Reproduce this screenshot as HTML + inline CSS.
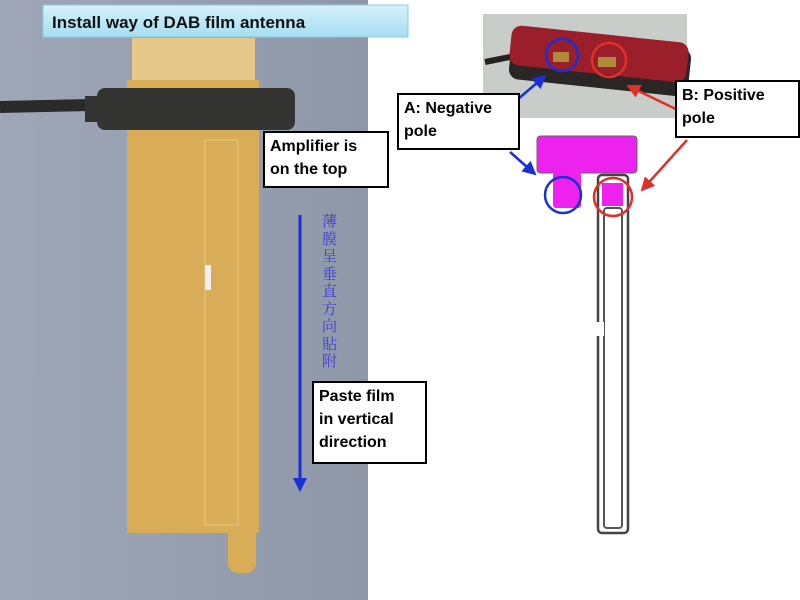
<!DOCTYPE html>
<html><head><meta charset="utf-8"><style>
body{margin:0;width:800px;height:600px;overflow:hidden;background:#fff;font-family:"Liberation Sans","Noto Sans CJK SC",sans-serif}
.box{position:absolute;background:#fff;border:2px solid #000;font-weight:bold;font-size:16px;line-height:23px;padding:2px 5px;box-sizing:border-box;color:#000}
</style></head><body>
<svg width="800" height="600" style="position:absolute;left:0;top:0">
<defs>
<linearGradient id="bg" x1="0" x2="1"><stop offset="0" stop-color="#9ea6b8"/><stop offset="1" stop-color="#8f98a8"/></linearGradient>
<linearGradient id="tb" x1="0" y1="0" x2="0" y2="1"><stop offset="0" stop-color="#d6f1fb"/><stop offset="1" stop-color="#a6def1"/></linearGradient>
<marker id="ab" markerUnits="userSpaceOnUse" markerWidth="14" markerHeight="14" refX="12" refY="7" orient="auto"><path d="M0,0 L14,7 L0,14z" fill="#1a2fd6"/></marker>
<marker id="ar" markerUnits="userSpaceOnUse" markerWidth="14" markerHeight="14" refX="12" refY="7" orient="auto"><path d="M0,0 L14,7 L0,14z" fill="#e0302a"/></marker>
</defs>
<rect x="0" y="0" width="368" height="600" fill="url(#bg)"/>
<rect x="132" y="38" width="123" height="50" fill="#e6c98a"/>
<rect x="127" y="80" width="132" height="453" fill="#d9ad58"/>
<rect x="228" y="520" width="28" height="53" rx="10" fill="#d9ad58"/>
<rect x="205" y="140" width="33" height="385" fill="none" stroke="#e8c984" stroke-width="1"/>
<rect x="205" y="265" width="6" height="25" fill="#eef0f5"/>
<path d="M0,107 L90,105" stroke="#2a2a2a" stroke-width="12"/>
<rect x="85" y="96" width="14" height="26" fill="#333"/>
<rect x="97" y="88" width="198" height="42" rx="8" fill="#343532"/>
<rect x="43" y="5" width="365" height="32" fill="url(#tb)" stroke="#8ccbe0"/>
<text x="52" y="28" font-size="17" font-weight="bold" fill="#111">Install way of DAB film antenna</text>
<line x1="300" y1="215" x2="300" y2="490" stroke="#1a2fd6" stroke-width="3" marker-end="url(#ab)"/>
<rect x="483" y="14" width="204" height="104" fill="#c9cdc9"/>
<path d="M485,62 L520,55 L620,70 L690,90" stroke="#222" stroke-width="6" fill="none"/>
<rect x="510" y="40" width="180" height="48" rx="10" fill="#2a2626" transform="rotate(6 600 64)"/>
<rect x="510" y="34" width="178" height="40" rx="10" fill="#9a1f2a" transform="rotate(6 600 54)"/>
<rect x="553" y="52" width="16" height="10" fill="#b08a3a"/>
<rect x="598" y="57" width="18" height="10" fill="#b08a3a"/>
<circle cx="562" cy="55" r="16" fill="none" stroke="#1c2fd0" stroke-width="2.5"/>
<circle cx="609" cy="60" r="17" fill="none" stroke="#e0302a" stroke-width="2.5"/>
<rect x="598" y="175" width="30" height="358" rx="4" fill="#fff" stroke="#444" stroke-width="2.5"/>
<rect x="604" y="208" width="18" height="320" rx="3" fill="none" stroke="#555" stroke-width="2"/>
<rect x="596" y="322" width="8" height="14" fill="#fff"/>
<path d="M537,140 q0,-4 4,-4 h92 q4,0 4,4 v29 q0,4 -4,4 h-92 q-4,0 -4,-4z" fill="#ee22ee" stroke="#666" stroke-width="1"/>
<rect x="553" y="172" width="28" height="36" rx="3" fill="#ee22ee"/>
<rect x="602" y="183" width="21" height="23" fill="#ee22ee"/>
<circle cx="563" cy="195" r="18" fill="none" stroke="#1c2fd0" stroke-width="2.5"/>
<circle cx="613" cy="197" r="19" fill="none" stroke="#e0302a" stroke-width="2.5"/>
<line x1="517" y1="100" x2="545" y2="76" stroke="#1a2fd6" stroke-width="2.5" marker-end="url(#ab)"/>
<line x1="510" y1="152" x2="535" y2="174" stroke="#1a2fd6" stroke-width="2.5" marker-end="url(#ab)"/>
<line x1="682" y1="112" x2="628" y2="86" stroke="#e0302a" stroke-width="2.5" marker-end="url(#ar)"/>
<line x1="687" y1="140" x2="642" y2="190" stroke="#e0302a" stroke-width="2.5" marker-end="url(#ar)"/>
</svg>
<div style="position:absolute;left:322px;top:212px;width:16px;color:#3a3ae0;font-size:15px;line-height:17.5px;font-family:'Noto Serif CJK SC','Noto Sans CJK SC',serif">薄膜呈垂直方向貼附</div>
<div class="box" style="left:263px;top:131px;width:126px;height:57px">Amplifier is<br>on the top</div>
<div class="box" style="left:312px;top:381px;width:115px;height:83px">Paste film<br>in vertical<br>direction</div>
<div class="box" style="left:397px;top:93px;width:123px;height:57px">A: Negative<br>pole</div>
<div class="box" style="left:675px;top:80px;width:125px;height:58px">B: Positive<br>pole</div>
</body></html>
